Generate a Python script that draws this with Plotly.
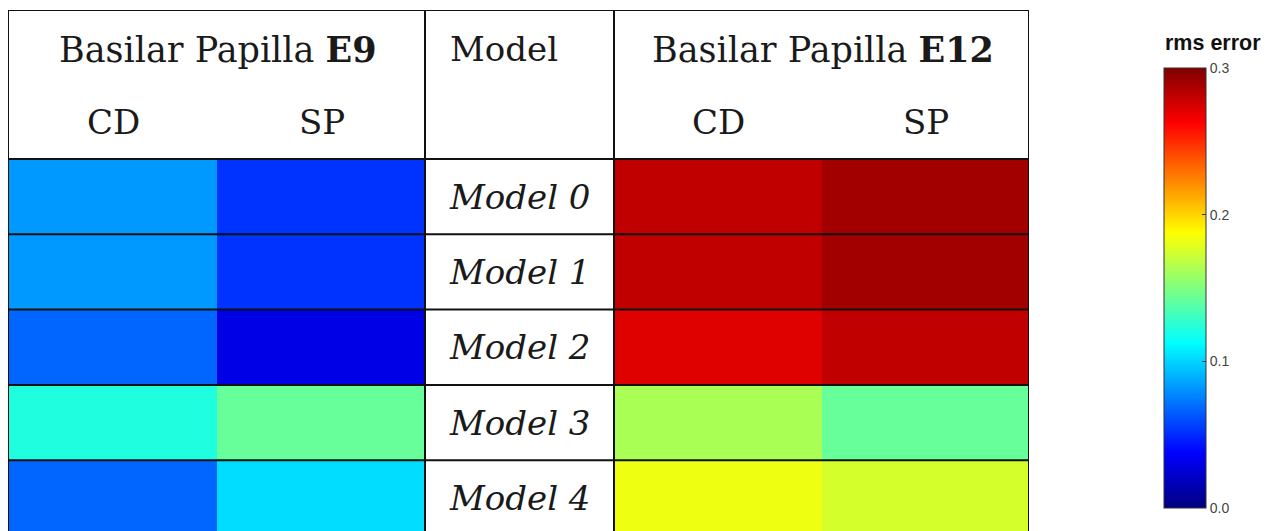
import plotly.graph_objects as go

# ---- data ----
models = ["Model 0", "Model 1", "Model 2", "Model 3", "Model 4"]
columns = ["CD", "SP"]
e9_cd = [0.0825, 0.0825, 0.0675, 0.1215, 0.0675]
e9_sp = [0.0525, 0.0525, 0.030, 0.1425, 0.1025]
e12_cd = [0.281, 0.281, 0.272, 0.1625, 0.1825]
e12_sp = [0.290, 0.290, 0.281, 0.1425, 0.175]
cb_ticks = [0.0, 0.1, 0.2, 0.3]
cb_ticktext = ["0.0", "0.1", "0.2", "0.3"]

# ---- layout geometry (axis units = page pixels) ----
BODY = 8                      # default page body margin
W, H = 1275, 531
X0, X1 = 8, 1029
Y0, Y1 = 10, 531
e9_edges = [8, 218, 425]
model_edges = [425, 614]
e12_edges = [614, 823, 1029]
header_bottom = 159
row_h = 75.3
row_edges = [header_bottom + i * row_h for i in range(len(models) + 1)]

jet = [[0.0, "rgb(0,0,128)"], [0.125, "rgb(0,0,255)"], [0.375, "rgb(0,255,255)"],
       [0.625, "rgb(255,255,0)"], [0.875, "rgb(255,0,0)"], [1.0, "rgb(128,0,0)"]]

serif = "DejaVu Serif"
fig = go.Figure()

z9 = [[a, b] for a, b in zip(e9_cd, e9_sp)]
z12 = [[a, b] for a, b in zip(e12_cd, e12_sp)]
fig.add_trace(go.Heatmap(z=z9, x=e9_edges, y=row_edges, coloraxis="coloraxis",
                         hoverinfo="z"))
fig.add_trace(go.Heatmap(z=z12, x=e12_edges, y=row_edges, coloraxis="coloraxis",
                         hoverinfo="z"))

line = dict(color="#111111", width=2)
shapes = []
for xv in [X0, model_edges[0], model_edges[1], X1]:
    shapes.append(dict(type="line", xref="x", yref="y", x0=xv, x1=xv, y0=Y0, y1=Y1 + 10, line=line))
shapes.append(dict(type="line", xref="x", yref="y", x0=X0, x1=X1, y0=Y0, y1=Y0, line=line))
for yv in row_edges[:-1]:
    shapes.append(dict(type="line", xref="x", yref="y", x0=X0 - 2, x1=X1 + 2, y0=yv, y1=yv, line=line))

ann = []
fs = 34
title_y = 49
sub_y = 121.5

def mid(a, b):
    return (a + b) / 2

ann.append(dict(x=e9_edges[1], y=title_y, text="Basilar Papilla <b>E9</b>", size=35))
ann.append(dict(x=e12_edges[1], y=title_y, text="Basilar Papilla <b>E12</b>", size=35))
for edges in (e9_edges, e12_edges):
    for i, c in enumerate(columns):
        ann.append(dict(x=mid(edges[i], edges[i + 1]), y=sub_y, text=c))
ann.append(dict(x=448, y=title_y, text="Model", xanchor="left"))
for i, m in enumerate(models):
    ann.append(dict(x=mid(*model_edges), y=mid(row_edges[i], row_edges[i + 1]),
                    text="<i>%s</i>" % m))
for a in ann:
    size = a.pop("size", fs)
    a.update(xref="x", yref="y", showarrow=False,
             font=dict(family=serif, size=size, color="#1a1a1a"))
    a.setdefault("xanchor", "center")

plot_w = X1 - X0
plot_h = Y1 - Y0
cb_left, cb_top, cb_len, cb_thick = 1164, 68, 440, 42

ann.append(dict(xref="paper", yref="paper", x=(1163 - X0) / plot_w, y=(Y1 - 43) / plot_h,
                xanchor="left", yanchor="middle", showarrow=False,
                text="<b>rms error</b>",
                font=dict(family="Liberation Sans", size=21.5, color="#111111")))

fig.update_layout(
    width=W - BODY, height=H - BODY,
    margin=dict(l=X0 - BODY, r=W - X1, t=Y0 - BODY, b=H - Y1, pad=0, autoexpand=False),
    paper_bgcolor="white", plot_bgcolor="white",
    xaxis=dict(range=[X0, X1], visible=False, fixedrange=True),
    yaxis=dict(range=[Y1, Y0], visible=False, fixedrange=True),
    shapes=shapes, annotations=ann, showlegend=False,
    coloraxis=dict(
        cmin=0, cmax=0.3, colorscale=jet,
        colorbar=dict(
            x=(cb_left - X0) / plot_w, xanchor="left",
            y=(Y1 - cb_top) / plot_h, yanchor="top",
            len=cb_len, lenmode="pixels", thickness=cb_thick, thicknessmode="pixels",
            xpad=0, ypad=0, outlinewidth=1, outlinecolor="#333333",
            tickvals=cb_ticks, ticktext=cb_ticktext, ticks="inside", ticklen=4,
            tickcolor="#333333",
            tickfont=dict(family="Liberation Sans", size=14, color="#444444"),
        ),
    ),
)

fig.write_html("out.html")
